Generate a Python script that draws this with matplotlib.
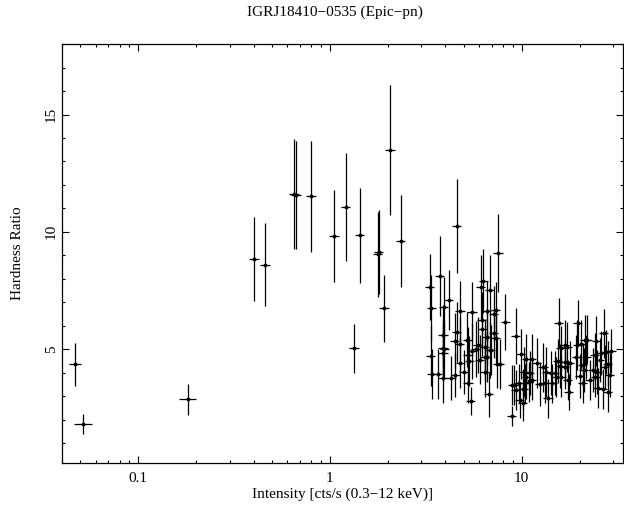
import numpy as np
import matplotlib
matplotlib.use('Agg')
import matplotlib.pyplot as plt
from matplotlib.ticker import LogLocator, MultipleLocator, NullFormatter

plt.rcParams['font.family'] = ['Liberation Serif', 'DejaVu Serif']

# intensity [cts/s], its error, hardness ratio, its error
intensity = [0.047, 0.0519, 0.1815, 0.403, 0.460, 0.652, 0.663, 0.796, 1.053,
             1.207, 1.433, 1.339, 1.771, 1.80, 1.91, 2.06, 2.334,
             3.31, 3.37, 3.74, 3.92, 4.17, 4.60, 4.77, 5.51, 6.29, 6.11,
             6.81, 6.59, 7.32, 7.17, 8.22, 9.31, 6.17, 3.89, 4.60, 4.48,
             4.75, 5.21, 3.89, 3.95, 3.89, 3.36, 5.92, 5.76, 6.42, 6.81,
             5.25, 5.53, 4.79, 5.32, 6.04, 6.59, 7.47, 7.68, 6.42, 3.40,
             3.66, 3.89, 4.30, 4.51, 4.99, 5.25, 6.71, 5.42, 8.84, 7.53,
             6.24, 6.59, 7.32, 7.17, 6.87, 6.42, 9.85, 10.57, 11.24, 10.28,
             11.01, 10.57, 9.12, 9.64, 10.37, 10.91, 11.24, 9.31, 10.16,
             9.77, 10.09, 12.41, 12.91, 13.45, 13.71, 15.59, 19.64, 26.83,
             16.75, 17.30, 21.28, 21.98, 24.49, 19.50, 20.46, 29.31, 15.96,
             15.45, 16.75, 17.78, 19.27, 21.73, 23.99, 26.01, 27.63, 15.77,
             16.75, 14.85, 14.28, 20.85, 21.10, 23.50, 24.78, 27.06, 28.13,
             13.18, 14.38, 15.16, 16.10, 17.42, 17.57, 20.85, 24.96, 26.51,
             28.13, 24.19, 8.94, 11.97, 20.04, 22.60, 28.73, 25.48]
intensity_err = [0.0033, 0.0055, 0.018, 0.024, 0.028, 0.040, 0.040, 0.045, 0.060,
                 0.070, 0.080, 0.080, 0.100, 0.100, 0.110, 0.120, 0.130,
                 0.18, 0.18, 0.20, 0.21, 0.22, 0.25, 0.26, 0.30, 0.34, 0.33,
                 0.37, 0.36, 0.40, 0.39, 0.45, 0.51, 0.34, 0.21, 0.25, 0.24,
                 0.26, 0.28, 0.21, 0.21, 0.21, 0.18, 0.32, 0.31, 0.35, 0.37,
                 0.29, 0.30, 0.26, 0.29, 0.33, 0.36, 0.41, 0.42, 0.35, 0.18,
                 0.20, 0.21, 0.23, 0.25, 0.27, 0.29, 0.37, 0.30, 0.48, 0.41,
                 0.34, 0.36, 0.40, 0.39, 0.37, 0.35, 0.54, 0.58, 0.61, 0.56,
                 0.60, 0.58, 0.50, 0.53, 0.57, 0.60, 0.61, 0.51, 0.56,
                 0.53, 0.55, 0.68, 0.71, 0.74, 0.75, 0.85, 1.07, 1.47,
                 0.92, 0.95, 1.16, 1.20, 1.34, 1.07, 1.12, 1.60, 0.87,
                 0.85, 0.92, 0.97, 1.05, 1.19, 1.31, 1.42, 1.51, 0.86,
                 0.92, 0.81, 0.78, 1.14, 1.15, 1.29, 1.36, 1.48, 1.54,
                 0.72, 0.79, 0.83, 0.88, 0.95, 0.96, 1.14, 1.37, 1.45,
                 1.54, 1.32, 0.49, 0.65, 1.10, 1.24, 1.57, 1.39]
hr = [4.35, 1.81, 2.87, 8.86, 8.60, 11.63, 11.56, 11.52, 9.81,
      11.06, 9.86, 5.03, 9.04, 9.14, 6.74, 13.47, 9.60,
      7.65, 6.77, 8.12, 6.80, 7.11, 10.26, 6.62, 6.57, 7.89, 7.65,
      7.54, 6.62, 6.66, 6.52, 6.16, 5.57, 6.26, 5.60, 5.75, 5.34,
      5.20, 5.41, 5.07, 5.00, 4.82, 4.70, 5.17, 4.99, 5.10, 4.96,
      4.74, 4.91, 4.42, 4.50, 4.56, 4.67, 4.39, 4.36, 4.03, 3.94,
      3.94, 3.78, 3.78, 3.89, 4.03, 3.54, 3.07, 2.79, 2.15, 9.11,
      5.88, 5.52, 5.46, 5.67, 4.96, 4.67, 4.79, 4.60, 4.60, 4.03,
      3.97, 3.82, 3.47, 3.54, 3.54, 3.61, 3.68, 3.26, 3.29,
      2.83, 2.69, 3.51, 4.22, 4.03, 2.90, 6.12, 6.12, 5.67,
      5.17, 5.10, 5.38, 5.41, 5.34, 5.17, 5.20, 4.93, 5.03,
      4.50, 4.46, 4.42, 4.65, 4.67, 4.74, 4.82, 4.89, 4.28,
      4.25, 3.97, 3.99, 4.32, 4.11, 4.11, 4.03, 4.25, 4.39,
      3.54, 3.54, 3.82, 3.82, 3.68, 3.18, 3.54, 3.33, 3.29,
      3.18, 3.82, 3.47, 4.40, 3.85, 3.68, 3.89, 4.53]
hr_err = [0.92, 0.43, 0.66, 1.79, 1.77, 2.34, 2.30, 2.37, 1.96,
          2.30, 2.03, 1.06, 1.80, 1.80, 1.42, 2.77, 1.96,
          1.40, 1.40, 1.70, 1.28, 1.28, 2.00, 1.28, 1.28, 1.36, 1.36,
          1.49, 1.28, 1.19, 1.19, 1.19, 1.19, 1.19, 1.28, 1.28, 1.19,
          1.19, 1.19, 1.19, 1.19, 1.19, 1.28, 1.19, 1.19, 1.19, 1.19,
          1.19, 1.19, 1.06, 1.06, 1.06, 1.06, 1.06, 1.06, 1.06, 1.06,
          1.06, 1.06, 0.94, 0.94, 0.94, 0.85, 0.94, 0.60, 0.43, 1.66,
          1.19, 1.19, 1.06, 1.06, 1.06, 1.06, 1.06, 1.06, 1.06, 1.06,
          0.94, 0.94, 0.85, 0.85, 0.85, 0.85, 0.85, 0.85, 0.85,
          0.77, 0.77, 0.94, 1.06, 1.06, 0.85, 1.06, 0.98, 1.06,
          1.06, 1.06, 1.06, 1.06, 1.06, 1.06, 1.06, 0.94, 0.94,
          0.94, 0.94, 0.94, 0.94, 0.94, 0.94, 0.94, 0.94, 0.94,
          0.94, 0.94, 0.94, 0.94, 0.94, 0.94, 0.94, 0.94, 0.94,
          0.85, 0.85, 0.85, 0.85, 0.85, 0.77, 0.85, 0.85, 0.85,
          0.85, 0.85, 0.85, 1.06, 0.94, 0.85, 0.94, 0.94]

fig = plt.figure(figsize=(6.24, 5.13), dpi=100)
ax = fig.add_axes([0.099, 0.097, 0.899, 0.817])

ax.errorbar(intensity, hr, xerr=intensity_err, yerr=hr_err, fmt='o',
            color='black', ms=1.8, elinewidth=0.9, capsize=0)

ax.set_xscale('log')
ax.set_xlim(0.04, 33.6)
ax.set_ylim(0.14, 18.0)

ax.set_xticks([0.1, 1, 10])
ax.set_xticklabels(['0.1', '1', '10'])
ax.xaxis.set_minor_locator(LogLocator(base=10, subs=np.arange(2, 10)))
ax.xaxis.set_minor_formatter(NullFormatter())
ax.set_yticks([5, 10, 15])
ax.set_yticklabels(['5', '10', '15'], rotation=90, va='center')
ax.yaxis.set_minor_locator(MultipleLocator(1))

ax.tick_params(which='both', direction='in', top=True, right=True,
               labelsize=11, width=0.8)
ax.tick_params(which='major', length=5)
ax.tick_params(which='minor', length=2.5)
ax.tick_params(axis='x', pad=6)
ax.tick_params(axis='y', pad=3)
for s in ax.spines.values():
    s.set_linewidth(0.9)

ax.set_xlabel('Intensity [cts/s (0.3\u221212 keV)]', fontsize=11, labelpad=2)
ax.set_ylabel('Hardness Ratio', fontsize=11, labelpad=15)
fig.text(0.537, 0.976, 'IGRJ18410\u22120535 (Epic\u2212pn)', fontsize=11,
         ha='center', va='center')

fig.savefig('out.png', dpi=100)
